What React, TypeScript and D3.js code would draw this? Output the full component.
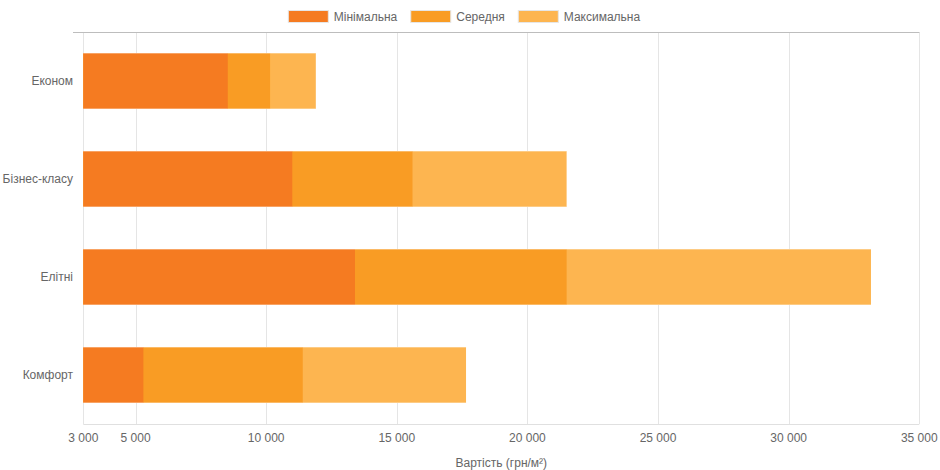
import React from "react";
import * as d3 from "d3";

const CATEGORIES = ["Економ", "Бізнес-класу", "Елітні", "Комфорт"];
const MIN_PRICE = [8530, 11000, 13400, 5300];
const AVG_PRICE = [10150, 15600, 21500, 11400];
const MAX_PRICE = [11900, 21500, 33150, 17650];
const X_TICKS = [3000, 5000, 10000, 15000, 20000, 25000, 30000, 35000];

const SERIES = [
  { name: "Мінімальна", values: MIN_PRICE, color: "#F57B21" },
  { name: "Середня", values: AVG_PRICE, color: "#F99C24" },
  { name: "Максимальна", values: MAX_PRICE, color: "#FDB550" },
];

const FONT = "'Liberation Sans', Arial, Helvetica, sans-serif";
const W = 940, H = 470;
const mg = { t: 32, r: 20.7, b: 46, l: 83.3 };

const fmt = d3.formatLocale({ decimal: ",", thousands: "\u00a0", grouping: [3], currency: ["", ""] }).format(",d");

function textWidth(s: string, size = 12) {
  const c = document.createElement("canvas").getContext("2d");
  if (!c) return s.length * size * 0.55;
  c.font = `${size}px ${FONT}`;
  return c.measureText(s).width;
}

export default function App() {
  document.body.style.margin = "0";

  const x = d3.scaleLinear().domain([3000, 35000]).range([mg.l, W - mg.r]);
  const y = d3.scaleBand<string>().domain(CATEGORIES).range([mg.t, H - mg.b])
    .paddingInner(0.4286).paddingOuter(0.2143);
  const bottom = H - mg.b;

  // legend layout, centred like chart.js (its canvas is a bit narrower than the page)
  const boxW = 40, gap = 10, legendCenter = 465.5;
  const items = SERIES.map(s => ({ ...s, w: boxW + 6 + textWidth(s.name) + 3 }));
  const total = d3.sum(items, d => d.w) + gap * (items.length - 1);
  let lx = legendCenter - total / 2;
  const legend = items.map(it => { const p = { ...it, x: lx }; lx += it.w + gap; return p; });

  // draw widest bars first so the narrower ones sit on top
  const drawOrder = [...SERIES].reverse();

  return (
    <svg width={W} height={H} style={{ display: "block", fontFamily: FONT }}>
      {legend.map(it => (
        <g key={it.name}>
          <rect x={it.x + 0.5} y={10.5} width={boxW} height={12} fill={it.color} stroke="#e6e6e6" />
          <text x={it.x + boxW + 6} y={16.5} dy="0.35em" fontSize={12} fill="#666">{it.name}</text>
        </g>
      ))}

      {X_TICKS.map(t => (
        <line key={t} x1={Math.round(x(t)) + 0.5} x2={Math.round(x(t)) + 0.5} y1={mg.t} y2={bottom}
          stroke="#e5e5e5" />
      ))}
      <line x1={73} x2={W - mg.r} y1={32.5} y2={32.5} stroke="#bdbdbd" />
      <line x1={mg.l} x2={W - mg.r} y1={bottom + 0.5} y2={bottom + 0.5} stroke="#e0e0e0" />

      {drawOrder.map(s => (
        <g key={s.name}>
          {CATEGORIES.map((c, i) => {
            const y0 = y(c)!, bw = y.bandwidth();
            const x0 = x(3000), x1 = x(s.values[i]);
            return (
              <g key={c}>
                <rect x={x0} y={y0} width={x1 - x0} height={bw} fill={s.color} />
                <rect x={x0} y={y0} width={x1 - x0} height={1} fill="#fff" opacity={0.3} />
                <rect x={x0} y={y0 + bw - 1} width={x1 - x0} height={1} fill="#fff" opacity={0.3} />
              </g>
            );
          })}
        </g>
      ))}

      {CATEGORIES.map(c => (
        <text key={c} x={73} y={y(c)! + y.bandwidth() / 2} dy="0.35em" textAnchor="end"
          fontSize={12} fill="#666">{c}</text>
      ))}

      {X_TICKS.map(t => (
        <text key={t} x={x(t)} y={438} dy="0.35em" textAnchor="middle" fontSize={12} fill="#666">{fmt(t)}</text>
      ))}

      <text x={(x(3000) + x(35000)) / 2} y={463} dy="0.35em" textAnchor="middle" fontSize={12} fill="#666">
        Вартість (грн/м²)
      </text>
    </svg>
  );
}
